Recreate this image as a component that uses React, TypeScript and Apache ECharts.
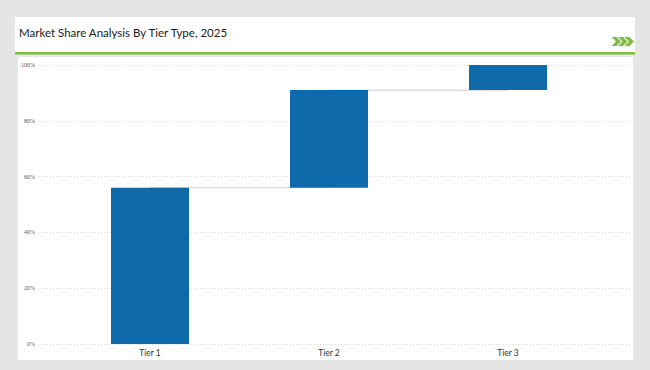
import React, { useEffect, useRef } from "react";
import * as echarts from "echarts";

const categories = ["Tier 1", "Tier 2", "Tier 3"];
const shares = [56, 35, 9];
const yTicks = [0, 20, 40, 60, 80, 100];
const titleText = "Market Share Analysis By Tier Type, 2025";

export default function App() {
  const ref = useRef<HTMLDivElement>(null);
  useEffect(() => {
    if (!ref.current) return;
    const chart = echarts.init(ref.current, null, { renderer: "svg" });
    const bases: number[] = [];
    let acc = 0;
    shares.forEach((v) => {
      bases.push(acc);
      acc += v;
    });
    const tops = shares.map((v, i) => bases[i] + v);
    const connectors = shares.slice(0, -1).map((_, i) =>
      categories.map((_, j) => (j === i || j === i + 1 ? tops[i] : "-"))
    );
    const chevron = (x0: number) => [
      [x0, 37],
      [x0 + 5, 37],
      [x0 + 9.5, 41.5],
      [x0 + 5, 46],
      [x0, 46],
      [x0 + 4.5, 41.5],
    ];
    chart.setOption({
      animation: false,
      backgroundColor: "#e5e5e5",
      graphic: [
        { type: "rect", z: -10, shape: { x: 15, y: 17, width: 620, height: 35 }, style: { fill: "#ffffff" } },
        { type: "rect", z: -10, shape: { x: 15, y: 52, width: 620, height: 2.5 }, style: { fill: "#7cbd42" } },
        { type: "rect", z: -10, shape: { x: 18, y: 57, width: 615, height: 303 }, style: { fill: "#ffffff" } },
        ...[611.5, 618, 624.5].map((x) => ({
          type: "polygon",
          z: 5,
          shape: { points: chevron(x) },
          style: { fill: "#7cbd42" },
        })),
        {
          type: "text",
          z: 5,
          left: 19,
          top: 26,
          style: {
            text: titleText,
            fill: "#1a1a1a",
            font: "11.5px Lato, 'Noto Sans', sans-serif",
          },
        },
      ],
      grid: [
        { left: 60.5, right: 52.5, top: 65, bottom: 26 },
        { left: 38, right: 18, top: 65, bottom: 26 },
      ],
      xAxis: [
        {
          type: "category",
          gridIndex: 0,
          data: categories,
          axisLine: { show: false },
          axisTick: { show: false },
          axisLabel: { margin: 4, fontSize: 8.5, color: "#333", fontFamily: "Lato, sans-serif" },
        },
        { type: "value", gridIndex: 1, show: false, min: 0, max: 1 },
      ],
      yAxis: [
        { type: "value", gridIndex: 0, min: 0, max: 100, interval: 20, show: false },
        {
          type: "value",
          gridIndex: 1,
          min: 0,
          max: 100,
          interval: 20,
          axisLine: { show: false },
          axisTick: { show: false },
          axisLabel: {
            margin: 3,
            fontSize: 6,
            color: "#555",
            fontFamily: "'Liberation Serif', serif",
            formatter: (v: number) => (yTicks.includes(v) ? v + "%" : ""),
          },
          splitLine: { lineStyle: { type: [1, 2], color: "#d8d8d8", width: 1 } },
        },
      ],
      series: [
        ...connectors.map((d) => ({
          type: "line",
          xAxisIndex: 0,
          yAxisIndex: 0,
          data: d,
          z: 1,
          symbol: "none",
          silent: true,
          lineStyle: { color: "#cfcfcf", width: 1 },
        })),
        {
          type: "bar",
          xAxisIndex: 0,
          yAxisIndex: 0,
          stack: "w",
          data: bases,
          z: 2,
          barWidth: "43.6%",
          itemStyle: { color: "transparent" },
          silent: true,
        },
        {
          type: "bar",
          xAxisIndex: 0,
          yAxisIndex: 0,
          stack: "w",
          data: shares,
          z: 2,
          barWidth: "43.6%",
          itemStyle: { color: "#0f6aab" },
        },
      ],
    });
    return () => chart.dispose();
  }, []);
  return (
    <div
      ref={ref}
      style={{ position: "fixed", left: 0, top: 0, width: 650, height: 370 }}
    />
  );
}
